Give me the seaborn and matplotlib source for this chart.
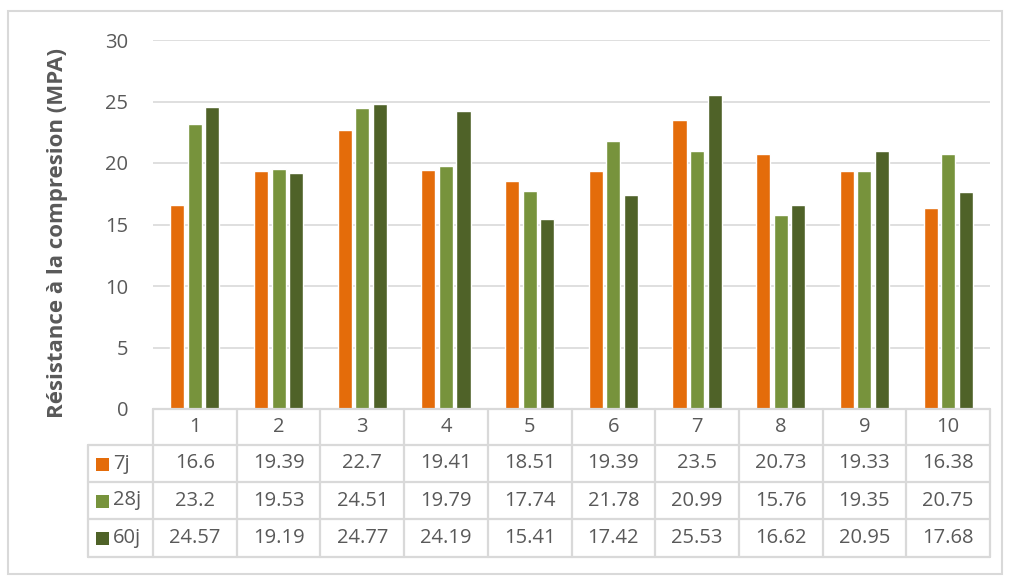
import matplotlib
matplotlib.use("Agg")
import matplotlib.pyplot as plt
from matplotlib.lines import Line2D
from matplotlib.patches import Rectangle
from matplotlib.transforms import blended_transform_factory
import seaborn as sns
import pandas as pd

# Compressive strength per specimen at 7, 28 and 60 days
specimens = ["1", "2", "3", "4", "5", "6", "7", "8", "9", "10"]
ages = ["7j", "28j", "60j"]
s7 = [16.6, 19.39, 22.7, 19.41, 18.51, 19.39, 23.5, 20.73, 19.33, 16.38]
s28 = [23.2, 19.53, 24.51, 19.79, 17.74, 21.78, 20.99, 15.76, 19.35, 20.75]
s60 = [24.57, 19.19, 24.77, 24.19, 15.41, 17.42, 25.53, 16.62, 20.95, 17.68]
colors = ["#E46C0A", "#77933C", "#4F6228"]
y_ticks = [0, 5, 10, 15, 20, 25, 30]

series = [s7, s28, s60]
df = pd.DataFrame({
    "Essai": specimens * 3,
    "Age": [a for a in ages for _ in specimens],
    "Resistance": s7 + s28 + s60,
})

sns.set_style("white")
plt.rcParams["font.family"] = ["Open Sans", "DejaVu Sans"]
TXT = "#595959"
GRID = "#D9D9D9"
FS = 14.5

W, H = 1010, 581
fig = plt.figure(figsize=(W / 100, H / 100), dpi=100)

def fx(px):
    return px / W

def fy(py):
    return 1 - py / H

left, right, top, bottom = 153, 990, 40, 409
ax = fig.add_axes([fx(left), fy(bottom), fx(right - left), (bottom - top) / H])

sns.barplot(data=df, x="Essai", y="Resistance", hue="Age", order=specimens,
            hue_order=ages, palette=colors, width=0.63, gap=0.2,
            saturation=1, legend=False, ax=ax, errorbar=None)

ax.set_xlim(-0.5, len(specimens) - 0.5)
ax.set_ylim(0, 30)
ax.set_yticks(y_ticks)
ax.set_yticklabels([str(t) for t in y_ticks], fontsize=FS, color=TXT)
ax.tick_params(axis="y", length=0, pad=18)
ax.tick_params(axis="x", length=0, labelbottom=False)
ax.set_xlabel("")
ax.set_ylabel("")
ax.grid(axis="y", color=GRID, linewidth=1.2)
ax.set_axisbelow(True)
for sp in ax.spines.values():
    sp.set_visible(False)

fig.text(fx(58), fy(233), "Résistance à la compresion (MPA)", rotation=90,
         ha="center", va="center", fontsize=16, fontweight="bold", color=TXT)

# Data table beneath the plot
row_lines = [409, 445, 482, 519, 557]
tab_left = 88
lw = 1.6
fig.add_artist(Line2D([fx(left), fx(right)], [fy(409), fy(409)], color=GRID, lw=lw))
for yl in row_lines[1:]:
    fig.add_artist(Line2D([fx(tab_left), fx(right)], [fy(yl), fy(yl)], color=GRID, lw=lw))
fig.add_artist(Line2D([fx(tab_left), fx(tab_left)], [fy(445), fy(557)], color=GRID, lw=lw))
trans = blended_transform_factory(ax.transData, fig.transFigure)
for k in range(len(specimens) + 1):
    xb = k - 0.5
    fig.add_artist(Line2D([xb, xb], [fy(409), fy(557)], color=GRID, lw=lw,
                          transform=trans))

for i, lab in enumerate(specimens):
    fig.text(i, fy(427), lab, transform=trans, ha="center", va="center",
             fontsize=FS, color=TXT)
for r, (name, vals, col) in enumerate(zip(ages, series, colors)):
    yc = (row_lines[r + 1] + row_lines[r + 2]) / 2
    fig.add_artist(Rectangle((fx(96), fy(yc + 7)), 13 / W, 13 / H,
                             facecolor=col, edgecolor="none"))
    fig.text(fx(113), fy(yc), name, ha="left", va="center", fontsize=FS, color=TXT)
    for i, v in enumerate(vals):
        fig.text(i, fy(yc), f"{v:g}", transform=trans, ha="center", va="center",
                 fontsize=FS, color=TXT)

# Chart frame
fig.add_artist(Rectangle((fx(8), fy(574)), 994 / W, 563 / H, fill=False,
                         edgecolor=GRID, lw=1.5))

fig.savefig("out.png", dpi=100)
